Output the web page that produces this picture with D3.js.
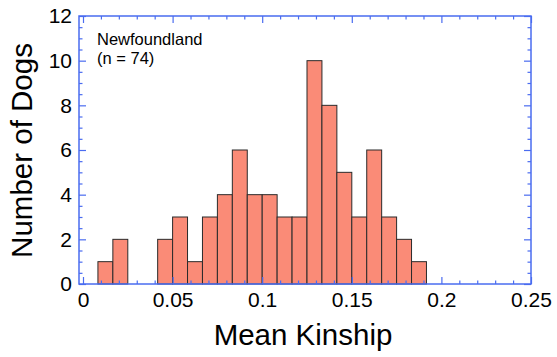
<!DOCTYPE html>
<html>
<head>
<meta charset="utf-8">
<script src="https://cdn.jsdelivr.net/npm/d3@7"></script>
<style>
  html, body { margin: 0; padding: 0; background: #fff; }
  svg { display: block; }
  text { font-family: "Liberation Sans", Arial, Helvetica, sans-serif; fill: #000; }
</style>
</head>
<body>
<svg id="chart" width="557" height="357"></svg>
<script>
// ---- data ----
const binWidth = 1 / 120;
const binStart = 1 / 120;
const counts = [1, 2, 0, 0, 2, 3, 1, 3, 4, 6, 4, 4, 3, 3, 10, 8, 5, 3, 6, 3, 2, 1];
const xTicks = [0, 0.05, 0.1, 0.15, 0.2, 0.25];
const xTickLabels = ["0", "0.05", "0.1", "0.15", "0.2", "0.25"];
const xMinor = d3.range(0, 26).map(i => i / 100).filter(v => Math.round(v * 100) % 5 !== 0);
const yTicks = [0, 2, 4, 6, 8, 10, 12];
const yMinor = d3.range(0, 24).map(i => i / 2).filter(v => v % 2 !== 0);
const xTitle = "Mean Kinship";
const yTitle = "Number of Dogs";
const noteLines = ["Newfoundland", "(n = 74)"];

// ---- layout ----
const L = 79, R = 531, T = 16, B = 284;
const axisColor = "#4a6cf0";

const svg = d3.select("#chart");
const x = d3.scaleLinear().domain([-0.00223, 0.25]).range([L, R]);
const y = d3.scaleLinear().domain([0, 12]).range([B, T]);

const bins = counts.map((c, i) => ({ x0: binStart + i * binWidth, x1: binStart + (i + 1) * binWidth, c }));

// bars
svg.append("g").selectAll("rect")
  .data(bins.filter(d => d.c > 0))
  .join("rect")
  .attr("x", d => x(d.x0))
  .attr("y", d => y(d.c))
  .attr("width", d => x(d.x1) - x(d.x0))
  .attr("height", d => y(0) - y(d.c))
  .attr("fill", "#fa8b77")
  .attr("stroke", "#2b2b2b")
  .attr("stroke-width", 1);

function styleAxis(g) {
  g.select(".domain").remove();
  g.selectAll(".tick line").attr("stroke", axisColor).attr("stroke-width", 1.2);
  g.selectAll(".tick text").attr("font-size", 21).attr("fill", "#000");
}

// bottom
svg.append("g").attr("transform", `translate(0,${B})`)
  .call(d3.axisBottom(x).tickValues(xTicks).tickFormat((d, i) => xTickLabels[i]).tickSizeInner(-7).tickSizeOuter(0).tickPadding(8))
  .call(styleAxis);
svg.append("g").attr("transform", `translate(0,${B})`)
  .call(d3.axisBottom(x).tickValues(xMinor).tickFormat("").tickSizeInner(-3.5).tickSizeOuter(0))
  .call(styleAxis);
// top
svg.append("g").attr("transform", `translate(0,${T})`)
  .call(d3.axisTop(x).tickValues(xTicks).tickFormat("").tickSizeInner(-7).tickSizeOuter(0))
  .call(styleAxis);
svg.append("g").attr("transform", `translate(0,${T})`)
  .call(d3.axisTop(x).tickValues(xMinor).tickFormat("").tickSizeInner(-3.5).tickSizeOuter(0))
  .call(styleAxis);
// left
svg.append("g").attr("transform", `translate(${L},0)`)
  .call(d3.axisLeft(y).tickValues(yTicks).tickFormat(d3.format("d")).tickSizeInner(-7).tickSizeOuter(0).tickPadding(7))
  .call(styleAxis);
svg.append("g").attr("transform", `translate(${L},0)`)
  .call(d3.axisLeft(y).tickValues(yMinor).tickFormat("").tickSizeInner(-3.5).tickSizeOuter(0))
  .call(styleAxis);
// right
svg.append("g").attr("transform", `translate(${R},0)`)
  .call(d3.axisRight(y).tickValues(yTicks).tickFormat("").tickSizeInner(-7).tickSizeOuter(0))
  .call(styleAxis);
svg.append("g").attr("transform", `translate(${R},0)`)
  .call(d3.axisRight(y).tickValues(yMinor).tickFormat("").tickSizeInner(-3.5).tickSizeOuter(0))
  .call(styleAxis);

// frame
svg.append("rect")
  .attr("x", L).attr("y", T).attr("width", R - L).attr("height", B - T)
  .attr("fill", "none").attr("stroke", axisColor).attr("stroke-width", 1.5);

// titles
svg.append("text")
  .attr("x", 303).attr("y", 345)
  .attr("text-anchor", "middle").attr("font-size", 29.5)
  .text(xTitle);
svg.append("text")
  .attr("transform", `translate(32,150.5) rotate(-90)`)
  .attr("text-anchor", "middle").attr("font-size", 29.5)
  .text(yTitle);

// note
noteLines.forEach((s, i) => svg.append("text")
  .attr("x", 97).attr("y", 45 + i * 18.5)
  .attr("font-size", 16.5)
  .text(s));
</script>
</body>
</html>
